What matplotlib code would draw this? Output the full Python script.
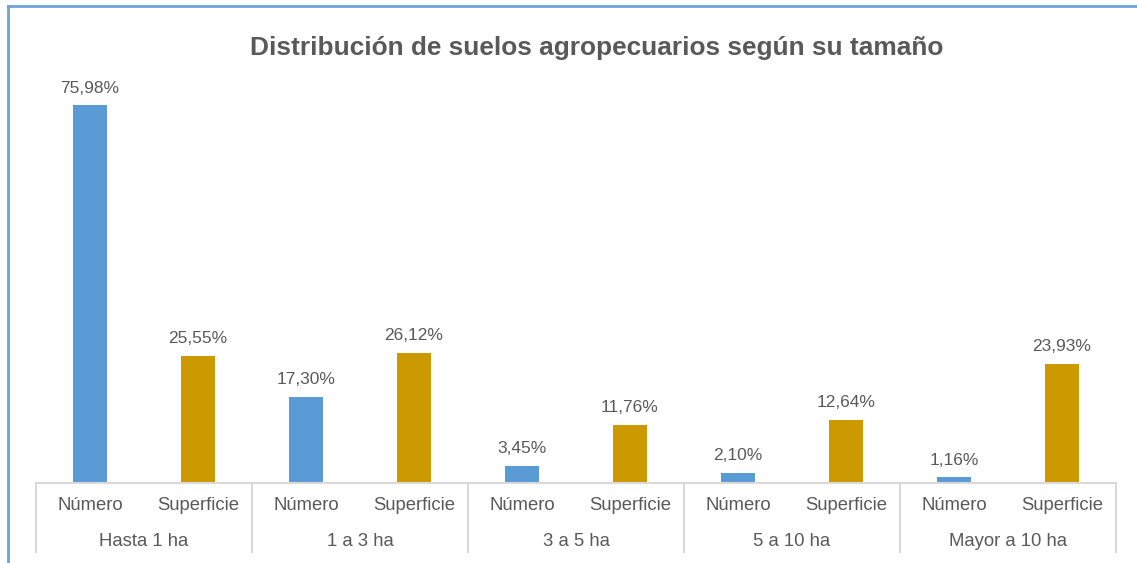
import matplotlib.pyplot as plt
import numpy as np
from matplotlib.lines import Line2D

grupos = ['Hasta 1 ha', '1 a 3 ha', '3 a 5 ha', '5 a 10 ha', 'Mayor a 10 ha']
series = ['Número', 'Superficie']
numero = [75.98, 17.30, 3.45, 2.10, 1.16]
superficie = [25.55, 26.12, 11.76, 12.64, 23.93]

plt.rcParams['font.family'] = ['Liberation Sans', 'DejaVu Sans']
gris = '#595959'
linea = '#d9d9d9'
azul = '#5B9BD5'
oro = '#CC9900'

W, H = 1137, 563
fig = plt.figure(figsize=(W / 100, H / 100), dpi=100)
ax_top_px, ax_bot_px, ax_left_px, ax_right_px = 85.4, 483, 36, 1116
ax = fig.add_axes([ax_left_px / W, 1 - ax_bot_px / H,
                   (ax_right_px - ax_left_px) / W, (ax_bot_px - ax_top_px) / H])
ax_h = ax_bot_px - ax_top_px

n = len(grupos)
x_num = np.arange(n) * 2
x_sup = x_num + 1
w = 0.315
ax.bar(x_num, numero, w, color=azul)
ax.bar(x_sup, superficie, w, color=oro)

ax.set_xlim(-0.5, 2 * n - 0.5)
ax.set_ylim(0, 80)
for s in ['top', 'right', 'left']:
    ax.spines[s].set_visible(False)
ax.spines['bottom'].set_color(linea)
ax.spines['bottom'].set_linewidth(1.5)
ax.set_xticks([])
ax.set_yticks([])


def fmt(v):
    return ('%.2f%%' % v).replace('.', ',')


for xs, vals in [(x_num, numero), (x_sup, superficie)]:
    for xi, v in zip(xs, vals):
        ax.annotate(fmt(v), (xi, v), xytext=(0, 7), textcoords='offset points',
                    ha='center', va='bottom', fontsize=12.5, color=gris)

# etiquetas de categoria (dos niveles)
for g in range(n):
    for k, nombre in enumerate(series):
        ax.text(2 * g + k, -22 / ax_h, nombre, transform=ax.get_xaxis_transform(),
                ha='center', va='center', fontsize=13.3, color=gris)
    ax.text(2 * g + 0.5, -58 / ax_h, grupos[g], transform=ax.get_xaxis_transform(),
            ha='center', va='center', fontsize=13.3, color=gris)

for g in range(n + 1):
    ax.plot([2 * g - 0.5] * 2, [0, -69 / ax_h], transform=ax.get_xaxis_transform(),
            color=linea, lw=1.5, clip_on=False)

fig.text(597 / W, 1 - 48 / H, 'Distribución de suelos agropecuarios según su tamaño',
         ha='center', va='center', fontsize=18.9, fontweight='bold', color=gris)

# borde del grafico
fig.add_artist(Line2D([8 / W, 1], [1 - 6 / H, 1 - 6 / H], color='#6FA3D6', lw=2))
fig.add_artist(Line2D([8 / W, 8 / W], [0, 1 - 6 / H], color='#6FA3D6', lw=2))

fig.savefig('out.png', dpi=100)
